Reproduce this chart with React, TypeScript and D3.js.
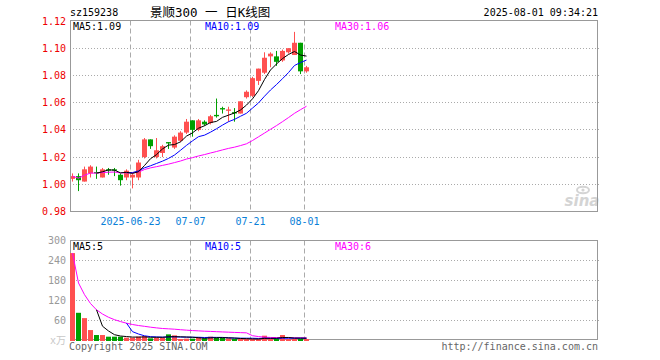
import React, { useEffect } from "react";
import * as d3 from "d3";

// ---- data ----
const dates = [
  "2025-06-09", "2025-06-10", "2025-06-11", "2025-06-12", "2025-06-13",
  "2025-06-16", "2025-06-17", "2025-06-18", "2025-06-19", "2025-06-20",
  "2025-06-23", "2025-06-24", "2025-06-25", "2025-06-26", "2025-06-27",
  "2025-06-30", "2025-07-01", "2025-07-02", "2025-07-03", "2025-07-04",
  "2025-07-07", "2025-07-08", "2025-07-09", "2025-07-10", "2025-07-11",
  "2025-07-14", "2025-07-15", "2025-07-16", "2025-07-17", "2025-07-18",
  "2025-07-21", "2025-07-22", "2025-07-23", "2025-07-24", "2025-07-25",
  "2025-07-28", "2025-07-29", "2025-07-30", "2025-07-31", "2025-08-01",
];
const openP = [
  1.004, 1.006, 1.002, 1.008, 1.009, 1.005, 1.011, 1.011, 1.007, 1.005,
  1.005, 1.005, 1.020, 1.033, 1.020, 1.023, 1.031, 1.027, 1.032, 1.038,
  1.047, 1.040, 1.046, 1.045, 1.051, 1.056, 1.054, 1.053, 1.052, 1.064,
  1.065, 1.076, 1.082, 1.094, 1.094, 1.091, 1.097, 1.095, 1.104, 1.083,
];
const highP = [
  1.008, 1.008, 1.013, 1.014, 1.013, 1.012, 1.012, 1.012, 1.008, 1.011,
  1.008, 1.018, 1.034, 1.033, 1.034, 1.029, 1.031, 1.036, 1.039, 1.048,
  1.047, 1.048, 1.047, 1.051, 1.063, 1.057, 1.057, 1.056, 1.061, 1.069,
  1.079, 1.085, 1.097, 1.097, 1.098, 1.099, 1.100, 1.112, 1.104, 1.087,
];
const lowP = [
  1.002, 0.995, 1.002, 1.005, 1.004, 1.005, 1.007, 1.006, 0.999, 1.003,
  0.997, 1.003, 1.019, 1.026, 1.019, 1.020, 1.026, 1.026, 1.031, 1.037,
  1.035, 1.039, 1.043, 1.044, 1.049, 1.052, 1.046, 1.046, 1.052, 1.063,
  1.064, 1.073, 1.081, 1.086, 1.087, 1.090, 1.096, 1.095, 1.081, 1.082,
];
const closeP = [
  1.006, 1.003, 1.011, 1.013, 1.008, 1.011, 1.010, 1.010, 1.003, 1.010,
  1.007, 1.016, 1.033, 1.028, 1.025, 1.028, 1.030, 1.035, 1.038, 1.046,
  1.040, 1.047, 1.044, 1.050, 1.050, 1.055, 1.055, 1.052, 1.061, 1.068,
  1.078, 1.085, 1.093, 1.096, 1.090, 1.098, 1.100, 1.104, 1.083, 1.086,
];
const volume = [
  262, 82, 66, 30, 15, 15, 10, 10, 10, 7,
  7, 10, 12, 5, 7, 7, 17, 14, 3, 4,
  4, 9, 5, 10, 6, 6, 5, 3, 3, 3,
  3, 3, 13, 3, 4, 15, 3, 3, 3, 3,
];
const priceTicks = [1.12, 1.1, 1.08, 1.06, 1.04, 1.02, 1.0, 0.98];
const volTicks = [300, 240, 180, 120, 60];
const dateTickIndex = [10, 20, 30, 39];
const dateTickLabels = ["2025-06-23", "07-07", "07-21", "08-01"];
const symbol = "sz159238";
const title = "景顺300 一 日K线图";
const timestamp = "2025-08-01 09:34:21";

// ---- helpers ----
function movingAvg(arr: number[], n: number, cumulativeStart: boolean) {
  return arr.map((_, i) => {
    if (i < n - 1) return cumulativeStart ? (d3.mean(arr.slice(0, i + 1)) as number) : null;
    return d3.mean(arr.slice(i - n + 1, i + 1)) as number;
  });
}

const MONO = "'DejaVu Sans Mono', 'Liberation Mono', monospace";
const RED = "#ff5050";
const GREEN = "#00a000";
const GRID = "#aaaaaa";
const FRAME = "#999999";

export default function App() {
  useEffect(() => {
    document.body.style.margin = "0";
  }, []);

  const W = 660;
  const H = 360;
  const left = 70;
  const right = 597;
  const pTop = 20.5;
  const pBot = 211.5;
  const vTop = 240.5;
  const vBot = 339.5;

  const x = d3.scaleLinear().domain([0, 88]).range([left, left + 6 * 88]);
  const cx = (i: number) => x(i) + 2.5;
  const yP = d3.scaleLinear().domain([0.98, 1.12]).range([211.5, 21]);
  const yV = d3.scaleLinear().domain([0, 300]).range([340, 240.5]);

  const ma5 = movingAvg(closeP, 5, false);
  const ma10 = movingAvg(closeP, 10, false);
  const ma30 = movingAvg(closeP, 30, true);
  const vma5 = movingAvg(volume, 5, false);
  const vma10 = movingAvg(volume, 10, false);
  const vma30 = movingAvg(volume, 30, true);

  const lineP = d3
    .line<number | null>()
    .defined((d) => d !== null)
    .x((_, i) => cx(i))
    .y((d) => yP(d as number));
  const lineV = d3
    .line<number | null>()
    .defined((d) => d !== null)
    .x((_, i) => cx(i))
    .y((d) => yV(d as number));

  const last = (a: (number | null)[]) => a[a.length - 1] as number;
  const gy = (v: number) => Math.floor(v) + 0.5;

  return (
    <svg
      width={W}
      height={H}
      style={{ position: "absolute", left: 0, top: 0, background: "#fff" }}
      fontFamily={MONO}
    >
      <rect x={0} y={0} width={W} height={H} fill="#fff" />
      {/* header */}
      <text x={70} y={16} fontSize={10} fill="#000">{symbol}</text>
      <text x={150} y={17} fontSize={12.5} fill="#000" fontFamily={`${MONO}, 'Noto Sans CJK SC'`}>{title}</text>
      <text x={598} y={16} fontSize={10} fill="#000" textAnchor="end">{timestamp}</text>

      {/* price gridlines */}
      {priceTicks.slice(1, -1).map((t) => (
        <line key={t} x1={left} x2={599} y1={gy(yP(t))} y2={gy(yP(t))} stroke={GRID} strokeDasharray="1,2" />
      ))}
      {/* date dashed lines */}
      {dateTickIndex.map((i) => (
        <g key={i}>
          <line x1={x(i) + 0.5} x2={x(i) + 0.5} y1={pTop} y2={pBot} stroke={GRID} strokeDasharray="5,3" />
          <line x1={x(i) + 0.5} x2={x(i) + 0.5} y1={vTop} y2={vBot} stroke={GRID} strokeDasharray="5,3" />
        </g>
      ))}
      {/* volume gridlines */}
      {volTicks.slice(1).map((t) => (
        <line key={t} x1={left} x2={599} y1={gy(yV(t))} y2={gy(yV(t))} stroke={GRID} strokeDasharray="1,2" />
      ))}

      {/* sina watermark */}
      <g fill="#d4d4d4" stroke="none">
        <ellipse cx={583} cy={190} rx={6} ry={3.2} fill="none" stroke="#d4d4d4" strokeWidth={2} />
        <circle cx={583} cy={190} r={1.6} />
        <text x={582} y={206} fontSize={15} fontStyle="italic" fontWeight="bold" textAnchor="middle" fontFamily="'DejaVu Sans', sans-serif">sina</text>
      </g>

      {/* candles */}
      {closeP.map((c, i) => {
        const o = openP[i];
        const up = c >= o;
        const col = up ? RED : GREEN;
        const yTop = yP(Math.max(o, c));
        const yBot = yP(Math.min(o, c));
        return (
          <g key={i}>
            <line x1={cx(i)} x2={cx(i)} y1={yP(highP[i])} y2={yP(lowP[i])} stroke={col} />
            <rect x={x(i)} y={yTop} width={5} height={Math.max(1, yBot - yTop)} fill={col} />
          </g>
        );
      })}
      {/* price MA lines */}
      <path d={lineP(ma30) || ""} fill="none" stroke="#ff00ff" strokeWidth={1} />
      <path d={lineP(ma10) || ""} fill="none" stroke="#0000ff" strokeWidth={1} />
      <path d={lineP(ma5) || ""} fill="none" stroke="#000000" strokeWidth={1} />

      {/* price frame */}
      <rect x={left + 0.5} y={pTop} width={right - left} height={pBot - pTop} fill="none" stroke={FRAME} />

      {/* price labels */}
      {priceTicks.map((t) => (
        <text key={t} x={66} y={yP(t)} dy="0.35em" fontSize={10} fill="#ee0000" textAnchor="end">
          {t.toFixed(2)}
        </text>
      ))}
      <text x={73} y={30} fontSize={10} fill="#000">{`MA5:${last(ma5).toFixed(2)}`}</text>
      <text x={205} y={30} fontSize={10} fill="#0000ff">{`MA10:${last(ma10).toFixed(2)}`}</text>
      <text x={335} y={30} fontSize={10} fill="#ff00ff">{`MA30:${last(ma30).toFixed(2)}`}</text>

      {/* date labels */}
      {dateTickIndex.map((i, k) => (
        <text key={i} x={x(i) + 0.5} y={225} fontSize={10} fill="#0a80d8" textAnchor="middle">
          {dateTickLabels[k]}
        </text>
      ))}

      {/* volume frame */}
      <rect x={left + 0.5} y={vTop} width={right - left} height={vBot - vTop} fill="none" stroke={FRAME} />

      {/* volume bars */}
      {volume.map((v, i) => {
        const up = closeP[i] >= openP[i];
        return (
          <rect key={i} x={x(i)} y={yV(v)} width={5} height={341 - yV(v)} fill={up ? RED : GREEN} />
        );
      })}
      <path d={lineV(vma30) || ""} fill="none" stroke="#ff00ff" strokeWidth={1} />
      <path d={lineV(vma10) || ""} fill="none" stroke="#0000ff" strokeWidth={1} />
      <path d={lineV(vma5) || ""} fill="none" stroke="#000000" strokeWidth={1} />

      {/* volume labels */}
      {volTicks.map((t) => (
        <text key={t} x={66} y={yV(t)} dy="0.35em" fontSize={10} fill="#999999" textAnchor="end">
          {t}
        </text>
      ))}
      <text x={66} y={344} fontSize={10} fill="#c8c8c8" textAnchor="end" fontFamily={`${MONO}, 'Noto Sans CJK SC'`}>x万</text>
      <text x={73} y={250} fontSize={10} fill="#000">{`MA5:${Math.round(last(vma5))}`}</text>
      <text x={205} y={250} fontSize={10} fill="#0000ff">{`MA10:${Math.round(last(vma10))}`}</text>
      <text x={335} y={250} fontSize={10} fill="#ff00ff">{`MA30:${Math.round(last(vma30))}`}</text>

      {/* footer */}
      <text x={69} y={350} fontSize={10} fill="#666666">Copyright 2025 SINA.COM</text>
      <text x={598} y={350} fontSize={10} fill="#666666" textAnchor="end">http://finance.sina.com.cn</text>
    </svg>
  );
}
